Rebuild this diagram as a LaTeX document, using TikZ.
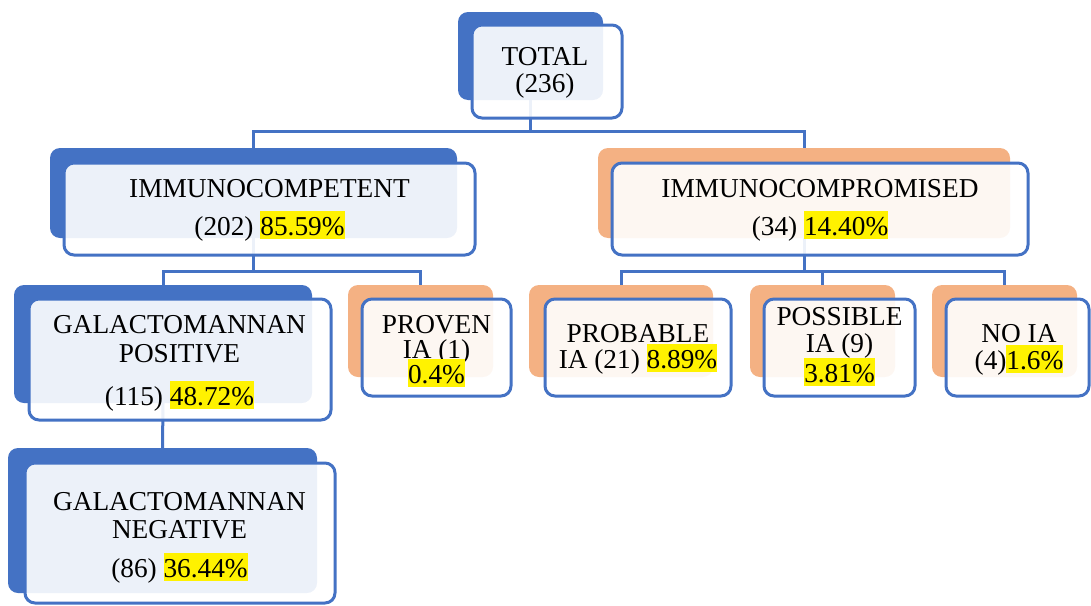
\documentclass[tikz,border=0pt]{standalone}
\usepackage{fontspec}
\setmainfont{Liberation Serif}
\definecolor{accb}{HTML}{4472C4}
\definecolor{acco}{HTML}{F4B183}
\newcommand{\hlt}[1]{{\setlength{\fboxsep}{0pt}\colorbox{yellow}{\rule[-0.15em]{0pt}{1.03em}#1}}}
\begin{document}
\begin{tikzpicture}[x=1pt,y=-1pt,
  backb/.style={fill=accb, draw=none, rounded corners=10pt, inner sep=0pt},
  backo/.style={fill=acco, draw=none, rounded corners=10pt, inner sep=0pt},
  front/.style={draw=accb, line width=3pt, fill=white, fill opacity=0.9, draw opacity=1, rounded corners=10pt, inner sep=0pt},
  conn/.style={draw=accb, line width=3pt},
  txt/.style={anchor=base, inner sep=0pt, font=\fontsize{27.3}{30}\selectfont, text=black}]
\useasboundingbox (0,0) rectangle (1091,605);
% back shapes
\node[backb, minimum width=145, minimum height=88] (root) at (530.5,56) {};
\node[backb, minimum width=407, minimum height=90] (imc) at (253.5,193) {};
\node[backo, minimum width=412, minimum height=90] (imp) at (804,193) {};
\node[backb, minimum width=298, minimum height=118] (gpos) at (163,344) {};
\node[backo, minimum width=145, minimum height=92] (prov) at (420.5,331) {};
\node[backo, minimum width=184, minimum height=92] (prob) at (621,331) {};
\node[backo, minimum width=145, minimum height=92] (poss) at (822.5,331) {};
\node[backo, minimum width=145, minimum height=92] (noia) at (1004.5,331) {};
\node[backb, minimum width=309, minimum height=145] (gneg) at (162.5,520.5) {};
% connectors
\coordinate (bus1) at (0,131);
\coordinate (bus2) at (0,271);
\draw[conn] (root.south) -- (root.south |- bus1) -| (imc.north);
\draw[conn] (root.south |- bus1) -| (imp.north);
\draw[conn] (imc.south) -- (imc.south |- bus2) -| (gpos.north);
\draw[conn] (imc.south |- bus2) -| (prov.north);
\draw[conn] (imp.south) -- (imp.south |- bus2) -| (prob.north);
\draw[conn] (imp.south |- bus2) -| (poss.north);
\draw[conn] (imp.south |- bus2) -| (noia.north);
\draw[conn] (gpos.south) -- (gneg.north);
% front shapes
\node[front, minimum width=150, minimum height=93] (rootf) at (547,71.5) {};
\node[front, minimum width=411, minimum height=92] (imcf) at (269.5,209) {};
\node[front, minimum width=416, minimum height=92] (impf) at (820,209) {};
\node[front, minimum width=302, minimum height=121] (gposf) at (180,359.5) {};
\node[front, minimum width=149, minimum height=97] (provf) at (436.5,347.5) {};
\node[front, minimum width=186, minimum height=97] (probf) at (638,347.5) {};
\node[front, minimum width=151, minimum height=97] (possf) at (839.5,347.5) {};
\node[front, minimum width=143, minimum height=97] (noiaf) at (1017.5,347.5) {};
\node[front, minimum width=310, minimum height=140] (gnegf) at (180,533) {};
% texts
\node[txt] (t1a) at (545,65) {TOTAL};
\node[txt] (t1b) at (545,92) {(236)};
\node[txt] (t2a) at (269.5,197) {IMMUNOCOMPETENT};
\node[txt] (t2b) at (269.5,235) {(202) \hlt{85.59\%}};
\node[txt] (t3a) at (820,197) {IMMUNOCOMPROMISED};
\node[txt] (t3b) at (820,235) {(34) \hlt{14.40\%}};
\node[txt] (t4a) at (179.5,333) {GALACTOMANNAN};
\node[txt] (t4b) at (179.5,362) {POSITIVE};
\node[txt] (t4c) at (179.5,405) {(115) \hlt{48.72\%}};
\node[txt] (t5a) at (436.5,333) {PROVEN};
\node[txt] (t5b) at (436.5,358) {IA (1)};
\node[txt] (t5c) at (436.5,383) {\hlt{0.4\%}};
\node[txt] (t6a) at (638,342) {PROBABLE};
\node[txt] (t6b) at (638,368) {IA (21) \hlt{8.89\%}};
\node[txt] (t7a) at (839.5,325) {POSSIBLE};
\node[txt] (t7b) at (839.5,352) {IA (9)};
\node[txt] (t7c) at (839.5,382) {\hlt{3.81\%}};
\node[txt] (t8a) at (1019,342) {NO IA};
\node[txt] (t8b) at (1019,369) {(4)\hlt{1.6\%}};
\node[txt] (t9a) at (179.5,510) {GALACTOMANNAN};
\node[txt] (t9b) at (179.5,538) {NEGATIVE};
\node[txt] (t9c) at (179.5,577) {(86) \hlt{36.44\%}};
\end{tikzpicture}
\end{document}
